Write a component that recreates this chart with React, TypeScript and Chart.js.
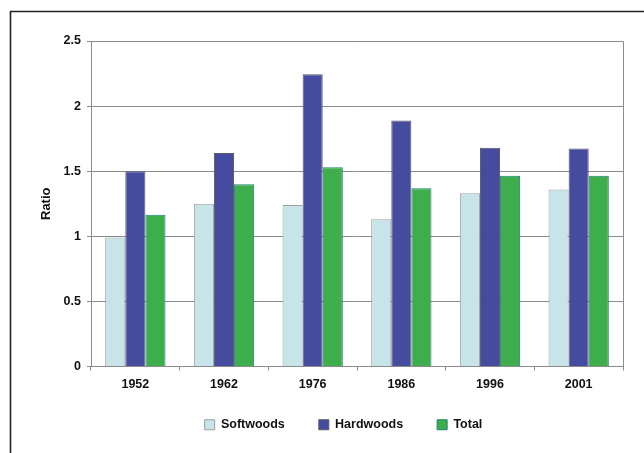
import React, { useEffect, useRef } from "react";
import { Chart, registerables } from "chart.js";

Chart.register(...registerables);

const categories = ["1952", "1962", "1976", "1986", "1996", "2001"];
const softwoods = [0.99, 1.25, 1.24, 1.13, 1.33, 1.36];
const hardwoods = [1.5, 1.64, 2.245, 1.89, 1.68, 1.675];
const total = [1.165, 1.4, 1.53, 1.37, 1.465, 1.465];
const yTickLabels = ["0", "0.5", "1", "1.5", "2", "2.5"];
const seriesNames = ["Softwoods", "Hardwoods", "Total"];

const FONT = "'Liberation Sans', Arial, Helvetica, sans-serif";
const LEGEND_PAD = 34;
const LEGEND_SHIFT_X = 32;
const LEGEND_SHIFT_Y = -12;

const framePlugin = {
  id: "frame",
  afterLayout(chart: any) {
    const lg = chart.legend;
    if (lg) {
      lg.left += LEGEND_SHIFT_X;
      lg.right += LEGEND_SHIFT_X;
      lg.top += LEGEND_SHIFT_Y;
      lg.bottom += LEGEND_SHIFT_Y;
    }
  },
  beforeDraw(chart: any) {
    const ctx = chart.ctx;
    ctx.save();
    ctx.fillStyle = "#ffffff";
    ctx.fillRect(0, 0, chart.width, chart.height);
    ctx.strokeStyle = "#222222";
    ctx.lineWidth = 1.6;
    ctx.beginPath();
    ctx.moveTo(10.5, chart.height);
    ctx.lineTo(10.5, 11.5);
    ctx.lineTo(chart.width, 11.5);
    ctx.stroke();
    ctx.restore();
  },
  afterDatasetsDraw(chart: any) {
    const { ctx, chartArea } = chart;
    ctx.save();
    ctx.strokeStyle = "#8c8c8c";
    ctx.lineWidth = 1;
    ctx.beginPath();
    ctx.moveTo(Math.round(chartArea.left) + 0.5, Math.round(chartArea.top) + 0.5);
    ctx.lineTo(Math.round(chartArea.right) + 0.5, Math.round(chartArea.top) + 0.5);
    ctx.lineTo(Math.round(chartArea.right) + 0.5, Math.round(chartArea.bottom) + 0.5);
    ctx.stroke();
    ctx.restore();
  },
};

export default function App() {
  const ref = useRef<HTMLCanvasElement | null>(null);
  useEffect(() => {
    if (!ref.current) return;
    const chart = new Chart(ref.current, {
      type: "bar",
      data: {
        labels: categories,
        datasets: [
          {
            label: seriesNames[0],
            data: softwoods,
            backgroundColor: "#c7e4e8",
            borderColor: "#9a9fa0",
            borderWidth: 1,
          },
          {
            label: seriesNames[1],
            data: hardwoods,
            backgroundColor: "#454b9e",
            borderColor: "#5a5a6a",
            borderWidth: 1,
          },
          {
            label: seriesNames[2],
            data: total,
            backgroundColor: "#3dae4b",
            borderColor: "#1d8279",
            borderWidth: 1,
          },
        ],
      },
      options: {
        responsive: false,
        animation: false,
        devicePixelRatio: 1,
        layout: { padding: { left: 0, right: 21, top: 41, bottom: 0 } },
        datasets: {
          bar: { categoryPercentage: 0.68, barPercentage: 1.0 },
        },
        plugins: {
          tooltip: { enabled: false },
          legend: {
            position: "bottom",
            labels: {
              boxWidth: 10,
              boxHeight: 10,
              padding: LEGEND_PAD,
              color: "#111111",
              font: { family: FONT, size: 12.5, weight: "bold" },
            },
          },
        },
        scales: {
          x: {
            afterFit: (s: any) => {
              s.height = 30;
            },
            grid: {
              display: true,
              drawOnChartArea: false,
              drawTicks: true,
              tickLength: 4,
              color: "#8c8c8c",
              offset: true,
            },
            border: { display: true, color: "#8c8c8c" },
            ticks: {
              padding: 7,
              color: "#111111",
              font: { family: FONT, size: 12.5, weight: "bold" },
            },
          },
          y: {
            min: 0,
            max: 2.5,
            afterFit: (s: any) => {
              s.width = 91;
            },
            grid: {
              color: "#8c8c8c",
              drawTicks: true,
              tickLength: 4,
            },
            border: { display: true, color: "#8c8c8c" },
            ticks: {
              stepSize: 0.5,
              padding: 6,
              color: "#111111",
              font: { family: FONT, size: 12.5, weight: "bold" },
              callback: (_v: any, i: number) => yTickLabels[i],
            },
            title: {
              display: true,
              text: "Ratio",
              color: "#111111",
              padding: { top: 39, bottom: 0 },
              font: { family: FONT, size: 13, weight: "bold" },
            },
          },
        },
      },
      plugins: [framePlugin],
    });
    return () => chart.destroy();
  }, []);
  return (
    <div style={{ position: "absolute", left: 0, top: 0, width: 644, height: 453 }}>
      <canvas ref={ref} width={644} height={453} style={{ display: "block" }} />
    </div>
  );
}
